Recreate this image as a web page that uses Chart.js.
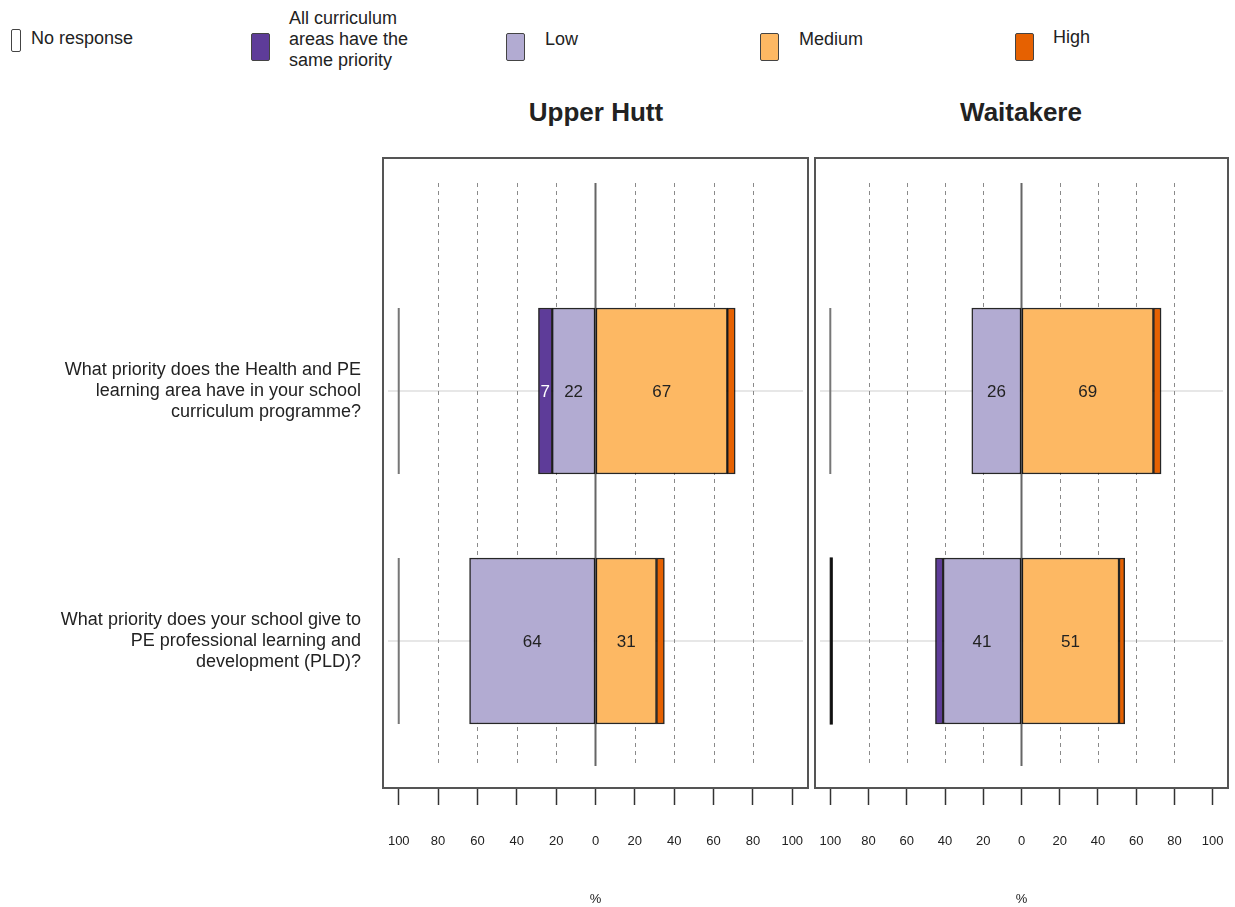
<!DOCTYPE html>
<html>
<head>
<meta charset="utf-8">
<script src="https://cdn.jsdelivr.net/npm/chart.js@4.4.1/dist/chart.umd.min.js"></script>
<style>
  body { margin: 0; background: #fff; font-family: "Liberation Sans", Arial, sans-serif; color: #222; }
  #page { position: relative; width: 1235px; height: 907px; overflow: hidden; }
  .key { position: absolute; border: 1.5px solid #444; border-radius: 2px; box-sizing: border-box; }
  .keytext { position: absolute; font-size: 18px; line-height: 21px; }
  .title { position: absolute; top: 97px; width: 300px; text-align: center; font-weight: bold; font-size: 26px; line-height: 30px; }
  canvas { position: absolute; top: 150px; }
</style>
</head>
<body>
<div id="page">
  <!-- legende -->
  <div class="key" style="left:11px;top:29px;width:10px;height:23px;background:#fff;"></div>
  <div class="keytext" style="left:31px;top:28px;">No response</div>
  <div class="key" style="left:251px;top:33px;width:19px;height:28px;background:#5e3c99;"></div>
  <div class="keytext" style="left:289px;top:8px;">All curriculum<br>areas have the<br>same priority</div>
  <div class="key" style="left:506px;top:33px;width:19px;height:28px;background:#b2abd2;"></div>
  <div class="keytext" style="left:545px;top:29px;">Low</div>
  <div class="key" style="left:760px;top:33px;width:19px;height:28px;background:#fdb863;"></div>
  <div class="keytext" style="left:799px;top:29px;">Medium</div>
  <div class="key" style="left:1015px;top:33px;width:19px;height:28px;background:#e66101;"></div>
  <div class="keytext" style="left:1053px;top:27px;">High</div>

  <div class="title" style="left:446px;">Upper Hutt</div>
  <div class="title" style="left:871px;">Waitakere</div>

  <canvas id="upperHutt" width="812" height="757" style="left:0px;"></canvas>
  <canvas id="waitakere" width="423" height="757" style="left:812px;"></canvas>
</div>

<script>
// Questions (axe des y)
const questions = [
    ["What priority does the Health and PE", "learning area have in your school", "curriculum programme?"],
    ["What priority does your school give to", "PE professional learning and", "development (PLD)?"]
];

const categories = ["No response", "All curriculum areas have the same priority", "Low", "Medium", "High"];
const categoryColors = ["#ffffff", "#5e3c99", "#b2abd2", "#fdb863", "#e66101"];

// Pourcentages par région
const upperHuttNoResponse = [0, 0];
const upperHuttSamePriority = [7, 0];
const upperHuttLow = [22, 64];
const upperHuttMedium = [67, 31];
const upperHuttHigh = [4, 4];

const waitakereNoResponse = [0, 1];
const waitakereSamePriority = [0, 4];
const waitakereLow = [26, 41];
const waitakereMedium = [69, 51];
const waitakereHigh = [4, 3];

const tickValues = [-100, -80, -60, -40, -20, 0, 20, 40, 60, 80, 100];
const dashedValues = [-80, -60, -40, -20, 20, 40, 60, 80];

const fontFamily = "'Liberation Sans', Arial, sans-serif";

// Dessine le cadre, les pointillés et les lignes de référence
const panelPlugin = {
    id: "panel",
    beforeDatasetsDraw(chart) {
        const { ctx, chartArea, scales } = chart;
        const top = chartArea.top + 25;
        const bottom = chartArea.bottom - 22;
        ctx.save();
        // lignes horizontales des questions
        ctx.strokeStyle = "#d0d0d0";
        ctx.lineWidth = 1.2;
        questions.forEach((q, i) => {
            const y = scales.y.getPixelForValue(i + 1);
            ctx.beginPath();
            ctx.moveTo(chartArea.left + 5, y);
            ctx.lineTo(chartArea.right - 5, y);
            ctx.stroke();
        });
        // pointillés verticaux
        ctx.strokeStyle = "#8a8a8a";
        ctx.lineWidth = 1;
        ctx.setLineDash([4, 4]);
        dashedValues.forEach(v => {
            const x = Math.round(scales.x.getPixelForValue(v)) + 0.5;
            ctx.beginPath();
            ctx.moveTo(x, top);
            ctx.lineTo(x, bottom);
            ctx.stroke();
        });
        // ligne du zéro
        ctx.setLineDash([]);
        ctx.strokeStyle = "#666";
        ctx.lineWidth = 2;
        const x0 = scales.x.getPixelForValue(0);
        ctx.beginPath();
        ctx.moveTo(x0, top);
        ctx.lineTo(x0, bottom);
        ctx.stroke();
        ctx.restore();
    },
    afterDatasetsDraw(chart) {
        const { ctx, chartArea } = chart;
        ctx.save();
        // "No response" : contour (rempli en noir si valeur non nulle)
        const nrMeta = chart.getDatasetMeta(0);
        const nrValues = chart.data.datasets[0].values;
        nrMeta.data.forEach((bar, i) => {
            const left = Math.min(bar.x, bar.base);
            const w = Math.abs(bar.x - bar.base);
            const top = bar.y - bar.height / 2;
            if (nrValues[i] > 0) {
                ctx.fillStyle = "#111";
                ctx.fillRect(left, top, w, bar.height);
                ctx.strokeStyle = "#111";
                ctx.lineWidth = 1.2;
            } else {
                ctx.strokeStyle = "#777";
                ctx.lineWidth = 2;
            }
            ctx.strokeRect(left, top, w, bar.height);
        });
        // valeurs dans les barres
        ctx.font = "17px " + fontFamily;
        ctx.textAlign = "center";
        ctx.textBaseline = "middle";
        chart.data.datasets.forEach((ds, d) => {
            if (d === 0) return;
            chart.getDatasetMeta(d).data.forEach((bar, i) => {
                const v = ds.values[i];
                if (v < 5) return;
                ctx.fillStyle = d === 1 ? "#ffffff" : "#222";
                ctx.fillText(String(v), (bar.x + bar.base) / 2, bar.y + 1);
            });
        });
        // cadre
        ctx.strokeStyle = "#555";
        ctx.lineWidth = 2;
        ctx.strokeRect(chartArea.left, chartArea.top, chartArea.right - chartArea.left, chartArea.bottom - chartArea.top);
        ctx.restore();
    }
};

function buildDatasets(noResponse, same, low, medium, high) {
    const ranges = [
        noResponse.map(v => [-100, -100 + v]),
        same.map((v, i) => [-(low[i] + v), -low[i]]),
        low.map(v => [-v, 0]),
        medium.map(v => [0, v]),
        medium.map((m, i) => [m, m + high[i]])
    ];
    const values = [noResponse, same, low, medium, high];
    return categories.map((label, c) => ({
        label: label,
        values: values[c],
        data: ranges[c].map((r, i) => ({ x: r, y: i + 1 })),
        backgroundColor: c === 0 ? "rgba(0,0,0,0)" : categoryColors[c],
        borderColor: "rgba(0,0,0,0.85)",
        borderWidth: c === 0 ? 0 : 1.5,
        borderSkipped: false,
        grouped: false,
        barThickness: 166
    }));
}

function noPadding(scale) {
    scale.paddingLeft = 0;
    scale.paddingRight = 0;
    scale.paddingTop = 0;
    scale.paddingBottom = 0;
}

function renderPanel(elementId, datasets, showQuestions, padding) {
    const ctx = document.getElementById(elementId).getContext("2d");
    new Chart(ctx, {
        type: "bar",
        data: { datasets: datasets },
        options: {
            indexAxis: "y",
            responsive: false,
            animation: false,
            layout: { padding: padding },
            plugins: {
                legend: { display: false },
                tooltip: { enabled: false }
            },
            scales: {
                x: {
                    type: "linear",
                    min: -108,
                    max: 108,
                    offset: false,
                    afterBuildTicks: scale => { scale.ticks = tickValues.map(v => ({ value: v })); },
                    afterFit: scale => { scale.height = 119; noPadding(scale); },
                    grid: { drawOnChartArea: false, drawTicks: true, tickLength: 17, tickColor: "#333", tickWidth: 1.5 },
                    border: { display: false },
                    ticks: {
                        autoSkip: false,
                        maxRotation: 0,
                        padding: 29,
                        color: "#222",
                        font: { family: fontFamily, size: 13 },
                        callback: v => String(Math.abs(v))
                    },
                    title: {
                        display: true,
                        text: "%",
                        color: "#222",
                        padding: { top: 0, bottom: 0 },
                        font: { family: fontFamily, size: 13 }
                    }
                },
                y: {
                    type: "linear",
                    reverse: true,
                    offset: false,
                    min: 0.068,
                    max: 2.588,
                    display: showQuestions,
                    afterBuildTicks: scale => { scale.ticks = questions.map((q, i) => ({ value: i + 1 })); },
                    afterFit: scale => { if (showQuestions) scale.width = 383; noPadding(scale); },
                    grid: { display: false, drawTicks: false },
                    border: { display: false },
                    ticks: {
                        padding: 22,
                        color: "#222",
                        font: { family: fontFamily, size: 18, lineHeight: 1.17 },
                        callback: v => questions[v - 1] || ""
                    }
                }
            }
        },
        plugins: [panelPlugin]
    });
}

renderPanel("upperHutt",
    buildDatasets(upperHuttNoResponse, upperHuttSamePriority, upperHuttLow, upperHuttMedium, upperHuttHigh),
    true, { top: 8, right: 4, bottom: 0, left: 0 });
renderPanel("waitakere",
    buildDatasets(waitakereNoResponse, waitakereSamePriority, waitakereLow, waitakereMedium, waitakereHigh),
    false, { top: 8, right: 7, bottom: 0, left: 3 });
</script>
</body>
</html>
